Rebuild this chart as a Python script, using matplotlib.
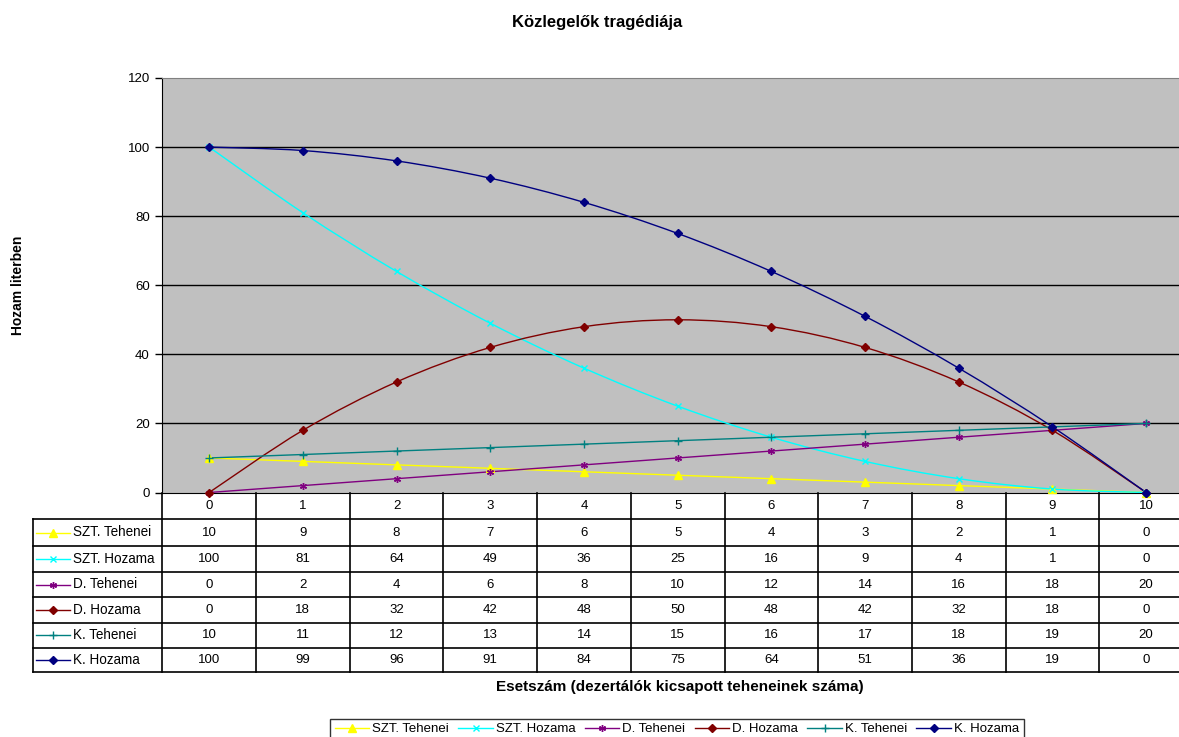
import numpy as np
import matplotlib
matplotlib.use("Agg")
import matplotlib.pyplot as plt
from matplotlib.path import Path
from matplotlib.patches import PathPatch
from matplotlib.lines import Line2D
from matplotlib.transforms import blended_transform_factory

plt.rcParams['font.family'] = ['Liberation Sans', 'DejaVu Sans']

# ---- data -------------------------------------------------------------
categories = [0, 1, 2, 3, 4, 5, 6, 7, 8, 9, 10]
series_names = ["SZT. Tehenei", "SZT. Hozama", "D. Tehenei",
                "D. Hozama", "K. Tehenei", "K. Hozama"]
szt_tehenei = [10, 9, 8, 7, 6, 5, 4, 3, 2, 1, 0]
szt_hozama = [100, 81, 64, 49, 36, 25, 16, 9, 4, 1, 0]
d_tehenei = [0, 2, 4, 6, 8, 10, 12, 14, 16, 18, 20]
d_hozama = [0, 18, 32, 42, 48, 50, 48, 42, 32, 18, 0]
k_tehenei = [10, 11, 12, 13, 14, 15, 16, 17, 18, 19, 20]
k_hozama = [100, 99, 96, 91, 84, 75, 64, 51, 36, 19, 0]
series_values = [szt_tehenei, szt_hozama, d_tehenei, d_hozama, k_tehenei, k_hozama]
y_ticks = [0, 20, 40, 60, 80, 100, 120]

title = "Közlegelők tragédiája"
x_title = "Esetszám (dezertálók kicsapott teheneinek száma)"
y_title = "Hozam literben"

# ---- styles -----------------------------------------------------------
colors = ["#FFFF00", "#00FFFF", "#800080", "#800000", "#008080", "#000080"]
markers = ["^", "x", (6, 2, 0), "D", "+", "D"]
msizes = [6, 4.5, 5, 4.3, 5.5, 4.3]
LW = 1.0

W, H = 1179, 737
fig = plt.figure(figsize=(W / 100, H / 100), dpi=100)
fig.patch.set_facecolor("white")

def fy(py):
    return 1 - py / H

# plot area (extends a little beyond the right edge of the figure)
left_px, top_px, bottom_px, cell_w = 162.3, 78, 492.5, 93.7
ax = fig.add_axes([left_px / W, fy(bottom_px), 11 * cell_w / W, (bottom_px - top_px) / H])
ax.set_facecolor("#C0C0C0")
ax.set_xlim(-0.5, 10.5)
ax.set_ylim(0, 120)
ax.set_yticks(y_ticks)
ax.set_yticklabels([str(t) for t in y_ticks], fontsize=9.5)
ax.set_xticks([])
ax.tick_params(axis="y", direction="out", length=5, width=1, pad=4, color="black")
for yv in y_ticks[1:-1]:
    ax.axhline(yv, color="black", lw=1, zorder=1)
ax.spines["top"].set_color("#808080")
ax.spines["right"].set_color("#808080")
ax.spines["left"].set_color("black")
ax.spines["bottom"].set_color("black")


def smooth_path(xs, ys):
    """Cubic Bezier path through the points (Catmull-Rom style tangents)."""
    pts = np.column_stack([xs, ys]).astype(float)
    n = len(pts)
    verts = [pts[0]]
    codes = [Path.MOVETO]
    for i in range(n - 1):
        p_prev = pts[i - 1] if i > 0 else pts[i]
        p0, p1 = pts[i], pts[i + 1]
        p_next = pts[i + 2] if i + 2 < n else pts[i + 1]
        c1 = p0 + (p1 - p_prev) / 6.0
        c2 = p1 - (p_next - p0) / 6.0
        verts += [c1, c2, p1]
        codes += [Path.CURVE4] * 3
    return Path(verts, codes)


for vals, c, m, ms in zip(series_values, colors, markers, msizes):
    patch = PathPatch(smooth_path(categories, vals), facecolor="none",
                      edgecolor=c, lw=LW, zorder=3)
    ax.add_patch(patch)
    ax.plot(categories, vals, linestyle="none", marker=m, markersize=ms,
            color=c, markeredgecolor=c, markeredgewidth=1.0, zorder=4,
            clip_on=False)

# ---- titles -----------------------------------------------------------
fig.text(597 / W, fy(22), title, ha="center", va="center",
         fontsize=12, fontweight="bold")
fig.text(680 / W, fy(687), x_title, ha="center", va="center",
         fontsize=11, fontweight="bold")
fig.text(18 / W, fy(285), y_title, ha="center", va="center",
         rotation=90, fontsize=10, fontweight="bold")

# ---- data table under the plot ----------------------------------------
tr = blended_transform_factory(ax.transData, fig.transFigure)
row_lines = [519, 546, 572, 597, 622.5, 648, 672]
label_left = -0.5 - (left_px - 33) / cell_w
lk = dict(color="black", lw=1.2, transform=tr, clip_on=False)

# header row with category numbers
ax.plot([-0.5, -0.5], [fy(bottom_px), fy(row_lines[-1])], **lk)
for i in range(len(categories) + 1):
    ax.plot([i + 0.5, i + 0.5], [fy(bottom_px), fy(row_lines[-1])], **lk)
for i, cat in enumerate(categories):
    ax.text(i, fy((bottom_px + row_lines[0]) / 2), str(cat), transform=tr,
            ha="center", va="center", fontsize=9.5)

# horizontal rules
for py in row_lines:
    ax.plot([label_left, 10.5], [fy(py), fy(py)], **lk)
ax.plot([label_left, label_left], [fy(row_lines[0]), fy(row_lines[-1])], **lk)

for r, (name, vals, c, m, ms) in enumerate(zip(series_names, series_values,
                                                colors, markers, msizes)):
    yc = fy((row_lines[r] + row_lines[r + 1]) / 2)
    x0 = label_left + 3 / cell_w
    x1 = label_left + 37 / cell_w
    ax.plot([x0, x1], [yc, yc], color=c, lw=LW, transform=tr, clip_on=False)
    ax.plot([(x0 + x1) / 2], [yc], marker=m, markersize=ms, color=c,
            markeredgecolor=c, markeredgewidth=1.0, transform=tr, clip_on=False)
    ax.text(label_left + 40 / cell_w, yc, name, transform=tr, ha="left",
            va="center", fontsize=9.75)
    for i, v in enumerate(vals):
        ax.text(i, yc, str(v), transform=tr, ha="center", va="center",
                fontsize=9.5)

# ---- legend -----------------------------------------------------------
handles = [Line2D([], [], color=c, lw=LW, marker=m, markersize=ms,
                  markeredgecolor=c, markeredgewidth=1.0)
           for c, m, ms in zip(colors, markers, msizes)]
leg = fig.legend(handles, series_names, loc="upper center",
                 bbox_to_anchor=(677 / W, fy(712)), ncol=6, fontsize=9.5,
                 frameon=True, fancybox=False, handlelength=2.6,
                 handletextpad=0.25, columnspacing=0.7, borderpad=0.35)
leg.get_frame().set_edgecolor("black")
leg.get_frame().set_linewidth(1.0)

fig.savefig("out.png", dpi=100, facecolor="white")
